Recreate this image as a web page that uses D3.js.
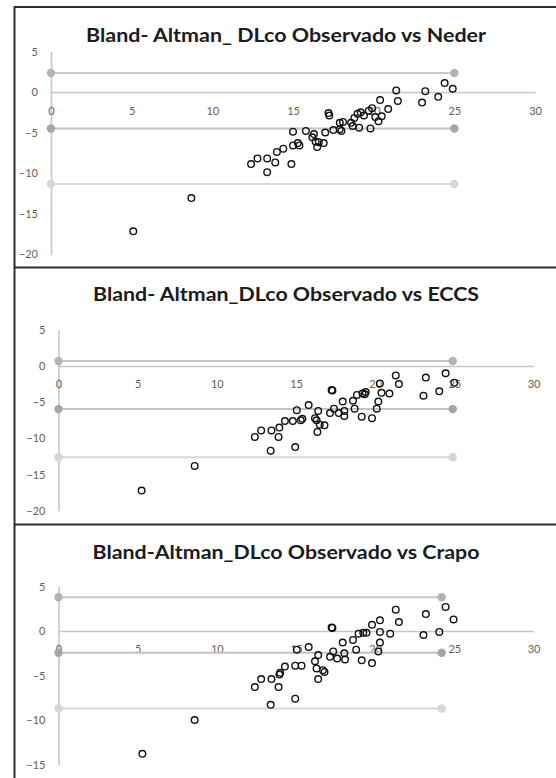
<!DOCTYPE html>
<html>
<head>
<meta charset="utf-8">
<script src="https://cdn.jsdelivr.net/npm/d3@7/dist/d3.min.js"></script>
<style>
  html, body { margin: 0; padding: 0; background: #fff; }
  svg { display: block; }
</style>
</head>
<body>
<svg id="chart" width="556" height="778"></svg>
<script>
// ---------------- DATA ----------------
const titles = [
  "Bland- Altman_ DLco Observado vs Neder",
  "Bland- Altman_DLco Observado vs ECCS",
  "Bland-Altman_DLco Observado vs Crapo"
];
const xTickValues = [0, 5, 10, 15, 20, 25, 30];
const yTicksNeder = [5, 0, -5, -10, -15, -20];
const yTicksEccs  = [5, 0, -5, -10, -15, -20];
const yTicksCrapo = [5, 0, -5, -10, -15];

// limits: upper, mean, lower
const limitsNeder = [2.35, -4.5, -11.35];
const limitsEccs  = [0.7, -5.95, -12.6];
const limitsCrapo = [3.8, -2.45, -8.7];
const limitEnds = [25, 24.9, 24.2];

// points [average, difference]
const nederPoints = [
  [5.1,-17.2],[8.7,-13.1],
  [12.4,-8.9],[12.8,-8.2],[13.4,-8.2],[13.4,-9.9],[13.9,-8.7],[14.0,-7.4],[14.4,-7.0],
  [14.9,-8.9],[15.0,-6.6],[15.0,-4.9],[15.3,-6.3],[15.4,-6.6],
  [15.8,-4.8],[16.2,-5.6],[16.3,-5.2],[16.4,-6.1],[16.5,-6.8],[16.6,-6.2],[16.9,-6.3],[17.0,-5.0],
  [17.2,-2.6],[17.25,-2.9],[17.5,-4.7],[17.9,-4.6],[17.9,-3.8],[18.0,-4.8],[18.1,-3.7],
  [18.6,-3.8],[18.7,-4.2],[18.8,-3.2],[19.0,-2.7],[19.1,-4.4],[19.2,-2.5],[19.4,-2.9],
  [19.7,-2.3],[19.8,-4.5],[19.9,-2.0],[20.1,-3.1],[20.3,-3.6],[20.4,-1.0],[20.5,-3.0],[20.9,-2.1],
  [21.4,0.2],[21.5,-1.1],[23.0,-1.3],[23.2,0.1],[24.0,-0.6],[24.4,1.1],[24.9,0.4]
];
const eccsPoints = [
  [5.25,-17.2],[8.6,-13.8],
  [12.4,-9.8],[12.8,-8.9],[13.4,-11.7],[13.45,-8.9],[13.9,-9.8],[13.95,-8.5],[14.3,-7.6],
  [14.8,-7.6],[14.95,-11.2],[15.05,-6.1],[15.3,-7.5],[15.4,-7.3],[15.8,-5.4],
  [16.2,-7.2],[16.3,-7.5],[16.4,-6.2],[16.35,-9.1],[16.5,-8.1],[16.8,-8.2],
  [17.15,-6.5],[17.25,-3.3],[17.3,-3.4],[17.4,-5.9],[17.7,-6.5],[17.95,-4.9],[18.05,-6.9],[18.05,-6.2],
  [18.6,-4.8],[18.7,-5.9],[18.85,-4.0],[19.15,-7.0],[19.2,-3.8],[19.35,-3.9],[19.4,-3.6],
  [19.8,-7.2],[20.1,-5.9],[20.2,-4.9],[20.3,-2.4],[20.4,-3.7],[20.9,-3.8],[21.3,-1.3],[21.5,-2.5],
  [23.05,-4.1],[23.2,-1.6],[24.05,-3.5],[24.45,-1.0],[25.0,-2.3]
];
const crapoPoints = [
  [5.3,-13.8],[8.6,-10.0],
  [12.4,-6.3],[12.8,-5.4],[13.4,-8.3],[13.45,-5.4],[13.9,-6.3],[13.95,-4.9],[14.0,-4.7],[14.3,-4.0],
  [14.95,-7.6],[14.95,-3.9],[15.05,-2.1],[15.35,-3.9],[15.8,-1.8],
  [16.2,-3.4],[16.3,-4.2],[16.4,-2.7],[16.4,-5.4],[16.7,-4.4],[16.8,-4.6],
  [17.15,-2.9],[17.25,0.4],[17.3,0.35],[17.35,-2.3],[17.6,-3.1],[17.95,-1.3],[18.05,-2.5],[18.1,-3.2],
  [18.6,-1.0],[18.8,-2.1],[18.95,-0.3],[19.15,-3.3],[19.25,-0.2],[19.45,-0.2],
  [19.8,0.7],[19.8,-3.6],[20.2,-2.3],[20.3,1.2],[20.3,-1.3],[20.3,-0.1],[20.95,-0.3],
  [21.3,2.4],[21.5,1.0],[23.05,-0.45],[23.2,1.9],[24.05,-0.1],[24.45,2.7],[24.95,1.3]
];

const pointsByPanel = [nederPoints, eccsPoints, crapoPoints];
const limitsByPanel = [limitsNeder, limitsEccs, limitsCrapo];
const yTicksByPanel = [yTicksNeder, yTicksEccs, yTicksCrapo];

// ---------------- LAYOUT ----------------
const layouts = [
  {top: 7,   x0: 51,   x1: 535,   yDom: [-20, 5], yBot: 254,   yTop: 51.5,  titleY: 42,  titleLen: 400, pad: 15},
  {top: 268, x0: 58.5, x1: 533.5, yDom: [-20, 5], yBot: 510.8, yTop: 329.8, titleY: 301, titleLen: 386, pad: 14},
  {top: 525, x0: 58.5, x1: 533.5, yDom: [-15, 5], yBot: 764.5, yTop: 586.5, titleY: 559, titleLen: 387, pad: 14}
];

const svg = d3.select("#chart");
svg.append("rect").attr("width", 556).attr("height", 778).attr("fill", "#fff");

const markerFill = ["#b3b3b3", "#a5a5a5", "#d6d6d6"];
const lineStroke = ["#c9c9c9", "#c3c3c3", "#d9d9d9"];

layouts.forEach((L, i) => {
  const g = svg.append("g");
  const x = d3.scaleLinear().domain([0, 30]).range([L.x0, L.x1]);
  const y = d3.scaleLinear().domain(L.yDom).range([L.yBot, L.yTop]);

  // title
  g.append("text")
    .attr("x", 286).attr("y", L.titleY)
    .attr("text-anchor", "middle")
    .attr("textLength", L.titleLen)
    .attr("lengthAdjust", "spacingAndGlyphs")
    .style("font-family", "Lato, 'Open Sans', sans-serif")
    .style("font-weight", "bold")
    .style("font-size", "19px")
    .attr("fill", "#1b1b22")
    .text(titles[i]);

  // y axis
  const yAxis = d3.axisLeft(y).tickValues(yTicksByPanel[i]).tickSize(0).tickPadding(13).tickFormat(d3.format("d"));
  const gy = g.append("g").attr("transform", `translate(${x(0)},0)`).call(yAxis);
  gy.select(".domain").attr("stroke", "#c6c6c6").attr("stroke-width", 1.6);
  gy.selectAll("text").style("font-family", "Lato, sans-serif").style("font-size", "11px").attr("fill", "#6a5e52");

  // x axis at y=0
  const xAxis = d3.axisBottom(x).tickValues(xTickValues).tickSize(0).tickPadding(L.pad).tickFormat(d3.format("d"));
  const gx = g.append("g").attr("transform", `translate(0,${y(0)})`).call(xAxis);
  gx.select(".domain").attr("stroke", "#c6c6c6").attr("stroke-width", 1.6);
  gx.selectAll("text").style("font-family", "Lato, sans-serif").style("font-size", "11px").attr("fill", "#6a5e52");

  // limit lines
  limitsByPanel[i].forEach((v, k) => {
    g.append("line")
      .attr("x1", x(0)).attr("x2", x(limitEnds[i]))
      .attr("y1", y(v)).attr("y2", y(v))
      .attr("stroke", lineStroke[k]).attr("stroke-width", 2);
    [0, limitEnds[i]].forEach(xv => {
      g.append("circle").attr("cx", x(xv)).attr("cy", y(v)).attr("r", 4.2).attr("fill", markerFill[k]);
    });
  });

  // points
  g.selectAll(".pt").data(pointsByPanel[i]).enter().append("circle")
    .attr("class", "pt")
    .attr("cx", d => x(d[0])).attr("cy", d => y(d[1]))
    .attr("r", 3.3).attr("fill", "none")
    .attr("stroke", "#111").attr("stroke-width", 1.4);
});

// panel borders
const border = svg.append("g").attr("stroke", "#2e2e2e").attr("stroke-width", 2);
border.append("line").attr("x1", 14.5).attr("x2", 556).attr("y1", 7).attr("y2", 7);
border.append("line").attr("x1", 14.5).attr("x2", 556).attr("y1", 267.5).attr("y2", 267.5);
border.append("line").attr("x1", 14.5).attr("x2", 556).attr("y1", 524.5).attr("y2", 524.5);
border.append("line").attr("x1", 14.5).attr("x2", 14.5).attr("y1", 6).attr("y2", 778);
</script>
</body>
</html>
